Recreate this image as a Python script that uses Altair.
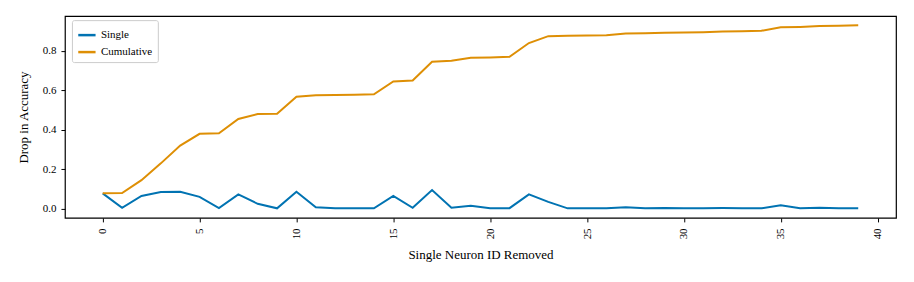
import altair as alt
import pandas as pd

neuron_ids = list(range(40))
single = [0.078, 0.005, 0.065, 0.085, 0.086, 0.060, 0.003, 0.073, 0.025, 0.002,
          0.086, 0.008, 0.002, 0.002, 0.002, 0.065, 0.005, 0.095, 0.005, 0.015,
          0.002, 0.003, 0.073, 0.035, 0.002, 0.002, 0.002, 0.008, 0.003, 0.004,
          0.002, 0.003, 0.004, 0.003, 0.002, 0.018, 0.003, 0.005, 0.003, 0.002]
cumulative = [0.078, 0.080, 0.145, 0.230, 0.320, 0.380, 0.383, 0.455, 0.480, 0.482,
              0.568, 0.575, 0.577, 0.578, 0.580, 0.645, 0.650, 0.745, 0.750, 0.765,
              0.767, 0.770, 0.840, 0.875, 0.877, 0.878, 0.880, 0.888, 0.890, 0.892,
              0.894, 0.895, 0.898, 0.900, 0.902, 0.920, 0.922, 0.926, 0.928, 0.930]
series_names = ["Single", "Cumulative"]
colors = ["#0173b2", "#de8f05"]

rows = []
for i, x in enumerate(neuron_ids):
    rows.append({"id": x, "value": single[i], "series": "Single", "order": 0})
    rows.append({"id": x, "value": cumulative[i], "series": "Cumulative", "order": 1})
df = pd.DataFrame(rows)

font = "Liberation Serif"

chart = alt.Chart(df).mark_line(strokeWidth=2, clip=True).encode(
    x=alt.X("id:Q", scale=alt.Scale(domain=[-1.95, 40.95], nice=False, zero=False),
            axis=alt.Axis(title="Single Neuron ID Removed", values=[0, 5, 10, 15, 20, 25, 30, 35, 40],
                          labelAngle=-90, grid=False, tickColor="black", domain=False,
                          tickSize=4, labelFontSize=11, titleFontSize=13,
                          titleFontWeight="normal", labelColor="black",
                          titleColor="black", labelPadding=6, titlePadding=10,
                          labelAlign="right", labelBaseline="middle")),
    y=alt.Y("value:Q", scale=alt.Scale(domain=[-0.0465, 0.9765], nice=False, zero=False),
            axis=alt.Axis(title="Drop in Accuracy", values=[0, 0.2, 0.4, 0.6, 0.8], format=".1f",
                          grid=False, tickColor="black", domain=False, tickSize=4,
                          labelFontSize=11, titleFontSize=13,
                          titleFontWeight="normal", labelColor="black", titleColor="black",
                          labelPadding=5, titlePadding=12)),
    color=alt.Color("series:N", scale=alt.Scale(domain=series_names, range=colors),
                    legend=alt.Legend(title=None, orient="none", legendX=7, legendY=4,
                                      symbolType="stroke", symbolStrokeWidth=2.5, symbolSize=300,
                                      labelFontSize=11, labelColor="black",
                                      strokeColor="#cccccc", fillColor="white", padding=5,
                                      cornerRadius=2, rowPadding=2)),
    order="order:Q",
).properties(
    width=832, height=202,
    autosize=alt.AutoSizeParams(type="none"),
    padding={"left": 57, "top": 8, "right": 10, "bottom": 50},
    background="white",
).configure(font=font).configure_view(
    stroke="black", strokeWidth=1.2
)

chart.save("out.html", embed_options={"renderer": "svg", "actions": False})
